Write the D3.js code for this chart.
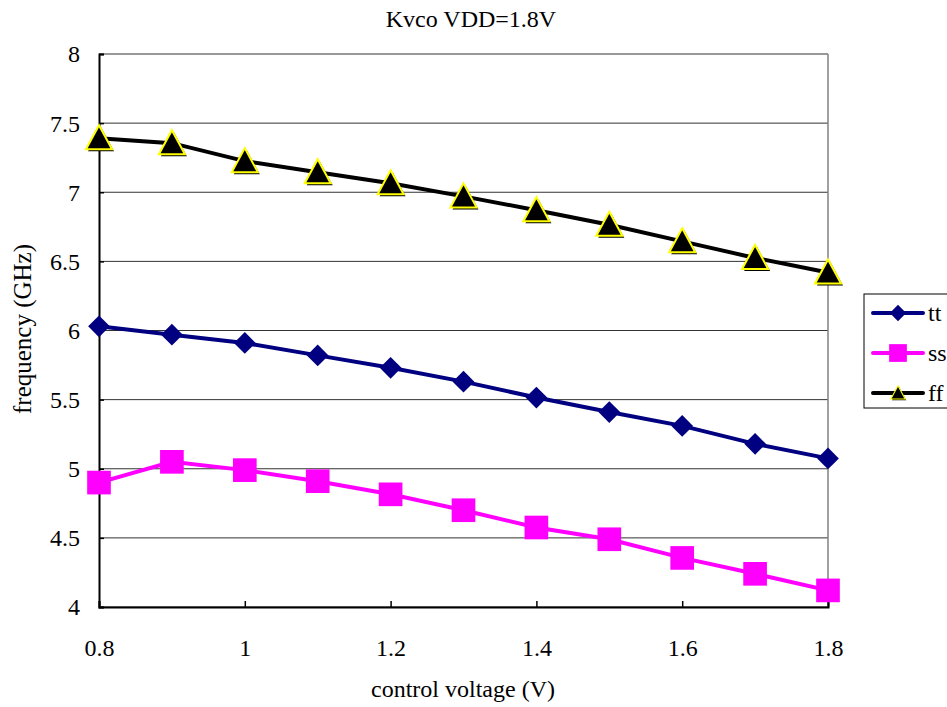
<!DOCTYPE html>
<html>
<head>
<meta charset="utf-8">
<script src="https://cdn.jsdelivr.net/npm/d3@7"></script>
<style>
  body { margin: 0; background: #fff; }
  text { font-family: "Liberation Serif", "Times New Roman", serif; }
</style>
</head>
<body>
<div id="chart"></div>
<script>
const voltages = [0.8, 0.9, 1.0, 1.1, 1.2, 1.3, 1.4, 1.5, 1.6, 1.7, 1.8];
const tt = [6.03, 5.97, 5.91, 5.82, 5.73, 5.63, 5.515, 5.41, 5.31, 5.18, 5.075];
const ss = [4.90, 5.05, 4.99, 4.91, 4.815, 4.70, 4.575, 4.49, 4.355, 4.24, 4.12];
const ff = [7.39, 7.355, 7.225, 7.145, 7.065, 6.97, 6.87, 6.765, 6.645, 6.525, 6.42];
const xTicks = [0.8, 1, 1.2, 1.4, 1.6, 1.8];
const yTicks = [4, 4.5, 5, 5.5, 6, 6.5, 7, 7.5, 8];
const seriesNames = ['tt', 'ss', 'ff'];

const width = 947, height = 707;
const margin = { top: 54, right: 119, bottom: 100, left: 99 };
const plot_width = width - margin.left - margin.right,
      plot_height = height - margin.top - margin.bottom;

const svg = d3.select('#chart').append('svg')
  .attr('width', width)
  .attr('height', height);

const g = svg.append('g')
  .attr('transform', 'translate(' + margin.left + ',' + margin.top + ')');

const x = d3.scaleLinear().domain([0.8, 1.8]).range([0, plot_width]);
const y = d3.scaleLinear().domain([4, 8]).range([plot_height, 0]);

// gridlines
g.append('g').selectAll('line')
  .data(yTicks)
  .enter().append('line')
    .attr('x1', 0).attr('x2', plot_width)
    .attr('y1', d => y(d)).attr('y2', d => y(d))
    .attr('stroke', '#333').attr('stroke-width', 1);

// right border
g.append('line')
  .attr('x1', plot_width).attr('x2', plot_width)
  .attr('y1', 0).attr('y2', plot_height)
  .attr('stroke', '#808080').attr('stroke-width', 1.5);

// axes
const xAxis = g.append('g')
  .attr('transform', 'translate(0,' + plot_height + ')')
  .call(d3.axisBottom(x).tickValues(xTicks).tickSize(-6).tickFormat(d3.format('')));
const yAxis = g.append('g')
  .call(d3.axisLeft(y).tickValues(yTicks).tickSize(-5).tickPadding(19).tickFormat(d3.format('')));

[xAxis, yAxis].forEach(a => {
  a.attr('font-family', '"Liberation Serif", serif').attr('font-size', 24);
  a.select('.domain').attr('stroke', '#000').attr('stroke-width', 2);
  a.selectAll('.tick line').attr('stroke', '#000').attr('stroke-width', 1.5);
  a.selectAll('.tick text').attr('fill', '#000');
});
xAxis.selectAll('.tick text').attr('y', 49).attr('dy', 0);
yAxis.selectAll('.tick text').attr('dy', '0.33em');

const series = [
  { name: 'tt', values: tt, color: '#000080' },
  { name: 'ss', values: ss, color: '#ff00ff' },
  { name: 'ff', values: ff, color: '#000000' }
];

const line = d3.line().x((d, i) => x(voltages[i])).y(d => y(d));

const diamond = d3.symbol().type(d3.symbolDiamond2).size(300)();
const square = d3.symbol().type(d3.symbolSquare).size(560)();
const tri = 'M0,-13L13,11L-13,11Z';

function drawMarker(sel, name, color) {
  if (name === 'tt') {
    sel.append('path').attr('d', diamond).attr('fill', color);
  } else if (name === 'ss') {
    sel.append('path').attr('d', square).attr('fill', color);
  } else {
    sel.append('path').attr('d', tri).attr('transform', 'translate(2,2)').attr('fill', '#000');
    sel.append('path').attr('d', tri).attr('fill', '#000')
      .attr('stroke', '#ffff00').attr('stroke-width', 2);
  }
}

series.forEach(s => {
  g.append('path')
    .datum(s.values)
    .attr('d', line)
    .attr('fill', 'none')
    .attr('stroke', s.color)
    .attr('stroke-width', 4);
  g.append('g').selectAll('g')
    .data(s.values)
    .enter().append('g')
      .attr('transform', (d, i) => 'translate(' + x(voltages[i]) + ',' + y(d) + ')')
      .each(function() { drawMarker(d3.select(this), s.name, s.color); });
});

// title and axis titles
svg.append('text')
  .attr('x', 471).attr('y', 27)
  .attr('text-anchor', 'middle')
  .style('font-size', '24px')
  .text('Kvco VDD=1.8V');

svg.append('text')
  .attr('x', 463).attr('y', 697)
  .attr('text-anchor', 'middle')
  .style('font-size', '24px')
  .text('control voltage (V)');

svg.append('text')
  .attr('transform', 'translate(31,329) rotate(-90)')
  .attr('text-anchor', 'middle')
  .style('font-size', '25px')
  .text('frequency (GHz)');

// legend
const legend = svg.append('g').attr('transform', 'translate(864,294)');
legend.append('rect')
  .attr('x', 0).attr('y', 0).attr('width', 100).attr('height', 114)
  .attr('fill', '#fff').attr('stroke', '#000').attr('stroke-width', 1);
series.forEach((s, i) => {
  const row = legend.append('g').attr('transform', 'translate(0,' + (19 + i * 40) + ')');
  row.append('line')
    .attr('x1', 9).attr('x2', 59)
    .attr('stroke', s.color).attr('stroke-width', 4).attr('stroke-linecap', 'round');
  const m = row.append('g').attr('transform', 'translate(34,0)' + (s.name === 'ff' ? ' scale(0.55)' : ' scale(0.75)'));
  drawMarker(m, s.name, s.color);
  row.append('text')
    .attr('x', 64).attr('y', 0).attr('dy', '0.35em')
    .style('font-size', '24px')
    .text(s.name);
});
</script>
</body>
</html>
